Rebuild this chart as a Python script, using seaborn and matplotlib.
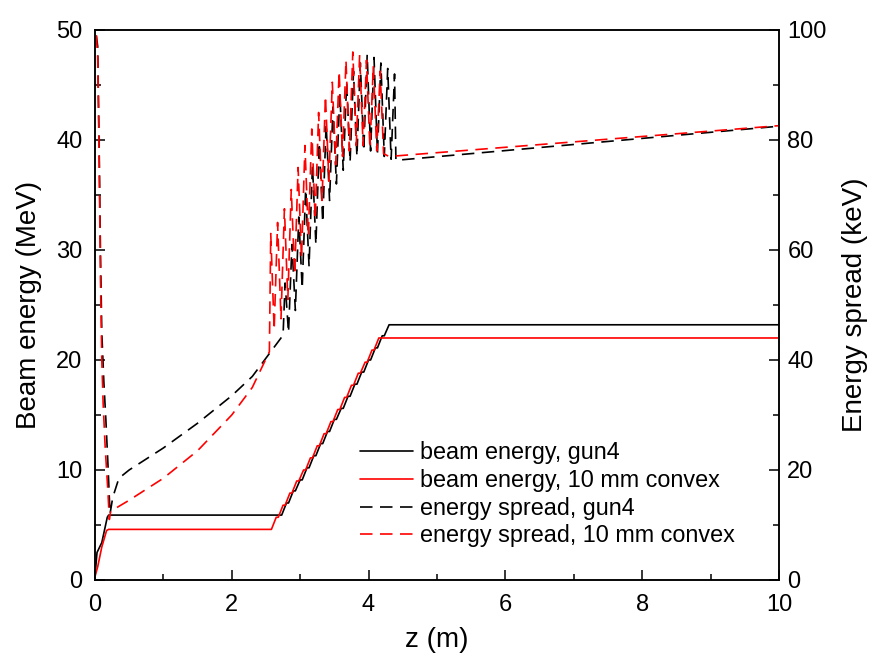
import matplotlib
matplotlib.use("Agg")
import matplotlib.pyplot as plt
from matplotlib.ticker import MultipleLocator
import seaborn as sns

# beam energy (MeV) along z (m)
z_e_gun4 = [0.0, 0.03, 0.10, 0.18, 0.20, 2.73, 2.80, 2.83, 2.90, 2.93, 3.00, 3.03, 3.10, 3.13,
            3.20, 3.23, 3.30, 3.33, 3.40, 3.43, 3.50, 3.53, 3.60, 3.63, 3.70, 3.73, 3.80, 3.83,
            3.90, 3.93, 4.00, 4.03, 4.10, 4.13, 4.20, 4.23, 4.30, 10.0]
e_gun4 = [0.3, 2.5, 3.4, 5.7, 5.9, 5.9, 7.0, 7.0, 8.1, 8.1, 9.1, 9.1, 10.2, 10.2,
          11.3, 11.3, 12.4, 12.4, 13.5, 13.5, 14.6, 14.6, 15.6, 15.6, 16.7, 16.7, 17.8, 17.8,
          18.9, 18.9, 20.0, 20.0, 21.1, 21.1, 22.2, 22.2, 23.2, 23.2]

z_e_cvx = [0.0, 0.04, 0.10, 0.17, 0.20, 2.58, 2.65, 2.68, 2.75, 2.78, 2.85, 2.88, 2.95, 2.98,
           3.05, 3.08, 3.15, 3.18, 3.25, 3.28, 3.35, 3.38, 3.45, 3.48, 3.55, 3.58, 3.65, 3.68,
           3.75, 3.78, 3.85, 3.88, 3.95, 3.98, 4.05, 4.08, 4.15, 10.0]
e_cvx = [0.3, 1.2, 3.0, 4.5, 4.6, 4.6, 5.7, 5.7, 6.8, 6.8, 7.9, 7.9, 9.0, 9.0,
         10.0, 10.0, 11.1, 11.1, 12.2, 12.2, 13.3, 13.3, 14.4, 14.4, 15.5, 15.5, 16.6, 16.6,
         17.7, 17.7, 18.8, 18.8, 19.8, 19.8, 20.9, 20.9, 22.0, 22.0]

# energy spread (keV) along z (m)
z_s_gun4 = [0.02, 0.04, 0.06, 0.08, 0.10, 0.13, 0.16, 0.19, 0.22, 0.26, 0.35, 0.5, 1.0, 1.5,
            2.0, 2.3, 2.6, 2.75, 2.78, 2.83, 2.88, 2.93, 2.98, 3.03, 3.08, 3.13, 3.18, 3.23,
            3.28, 3.33, 3.38, 3.43, 3.48, 3.53, 3.58, 3.63, 3.68, 3.73, 3.78, 3.83, 3.88, 3.93,
            3.98, 4.03, 4.08, 4.13, 4.18, 4.23, 4.28, 4.33, 4.38, 4.40, 10.0]
s_gun4 = [99, 97, 80, 60, 45, 36, 29, 21, 12, 15, 18.5, 20, 24, 28.5,
          33.5, 37, 42, 44.5, 54, 45, 61, 49, 66, 53, 71, 57, 75.5, 61,
          79.5, 65, 83, 69, 86, 72, 88.5, 74.5, 90.5, 76, 92.5, 77, 94, 78,
          95.5, 78, 95, 77.5, 94, 77, 93, 76.5, 92, 76.3, 82.5]

z_s_cvx = [0.02, 0.04, 0.06, 0.08, 0.10, 0.12, 0.15, 0.19, 0.21, 0.23, 0.5, 1.0, 1.5, 2.0,
           2.3, 2.55, 2.57, 2.62, 2.67, 2.72, 2.77, 2.82, 2.87, 2.92, 2.97, 3.02, 3.07, 3.12,
           3.17, 3.22, 3.27, 3.32, 3.37, 3.42, 3.47, 3.52, 3.57, 3.62, 3.67, 3.72, 3.77, 3.82,
           3.87, 3.92, 3.97, 4.02, 4.07, 4.12, 4.17, 4.22, 4.30, 10.0]
s_cvx = [99, 95, 78, 55, 40, 32, 24, 16, 11, 12.5, 14.5, 18.5, 23.5, 30,
         35, 41.5, 63, 45.5, 65, 47.5, 67.5, 51, 71, 55.5, 75, 58.5, 79, 62.5,
         82, 65.5, 85, 69, 88, 72.5, 90.5, 75.5, 92.5, 77, 94.5, 78, 96, 79,
         95.5, 79, 94.5, 78.5, 93.5, 78, 92.5, 77.5, 77, 82.6]

labels = ["beam energy, gun4", "beam energy, 10 mm convex",
          "energy spread, gun4", "energy spread, 10 mm convex"]

sns.set_style("ticks")
plt.rcParams["font.family"] = ["Liberation Sans", "DejaVu Sans"]
plt.rcParams.update({"text.color": "black", "axes.labelcolor": "black",
                     "xtick.color": "black", "ytick.color": "black"})

fig = plt.figure(figsize=(8.76, 6.63), dpi=100)
ax = fig.add_axes([0.1084, 0.1252, 0.7808, 0.8296])
ax2 = ax.twinx()

lw = 1.2
dash = (0, (7.5, 4.5))
sns.lineplot(x=z_e_gun4, y=e_gun4, ax=ax, color="black", lw=lw, sort=False, estimator=None, label=labels[0])
sns.lineplot(x=z_e_cvx, y=e_cvx, ax=ax, color="red", lw=lw, sort=False, estimator=None, label=labels[1])
sns.lineplot(x=z_s_gun4, y=s_gun4, ax=ax2, color="black", lw=lw, linestyle=dash, sort=False, estimator=None, label=labels[2])
sns.lineplot(x=z_s_cvx, y=s_cvx, ax=ax2, color="red", lw=lw, linestyle=dash, sort=False, estimator=None, label=labels[3])

ax.set_xlim(0, 10)
ax.set_ylim(0, 50)
ax2.set_ylim(0, 100)

ax.xaxis.set_major_locator(MultipleLocator(2))
ax.xaxis.set_minor_locator(MultipleLocator(1))
ax.yaxis.set_major_locator(MultipleLocator(10))
ax.yaxis.set_minor_locator(MultipleLocator(5))
ax2.yaxis.set_major_locator(MultipleLocator(20))
ax2.yaxis.set_minor_locator(MultipleLocator(10))

for a in (ax, ax2):
    a.tick_params(which="major", direction="in", length=7.5, width=1.1, labelsize=17)
    a.tick_params(which="minor", direction="in", length=4, width=1.1)
    for sp in a.spines.values():
        sp.set_linewidth(1.1)
        sp.set_color("black")
ax.tick_params(axis="x", which="major", pad=10)
ax.tick_params(axis="y", which="major", pad=9)
ax2.tick_params(axis="y", which="major", pad=6)

ax.set_xlabel("z (m)", fontsize=20, labelpad=8)
ax.set_ylabel("Beam energy (MeV)", fontsize=20, labelpad=10)
ax2.set_ylabel("Energy spread (keV)", fontsize=20, labelpad=11)

h1, l1 = ax.get_legend_handles_labels()
h2, l2 = ax2.get_legend_handles_labels()
if ax.get_legend() is not None:
    ax.get_legend().remove()
ax2.legend(h1 + h2, l1 + l2, loc="upper left", bbox_to_anchor=(0.374, 0.269),
           frameon=False, fontsize=16.8, handlelength=2.27, handletextpad=0.3,
           labelspacing=0.2, borderaxespad=0)

fig.savefig("out.png", dpi=100)
